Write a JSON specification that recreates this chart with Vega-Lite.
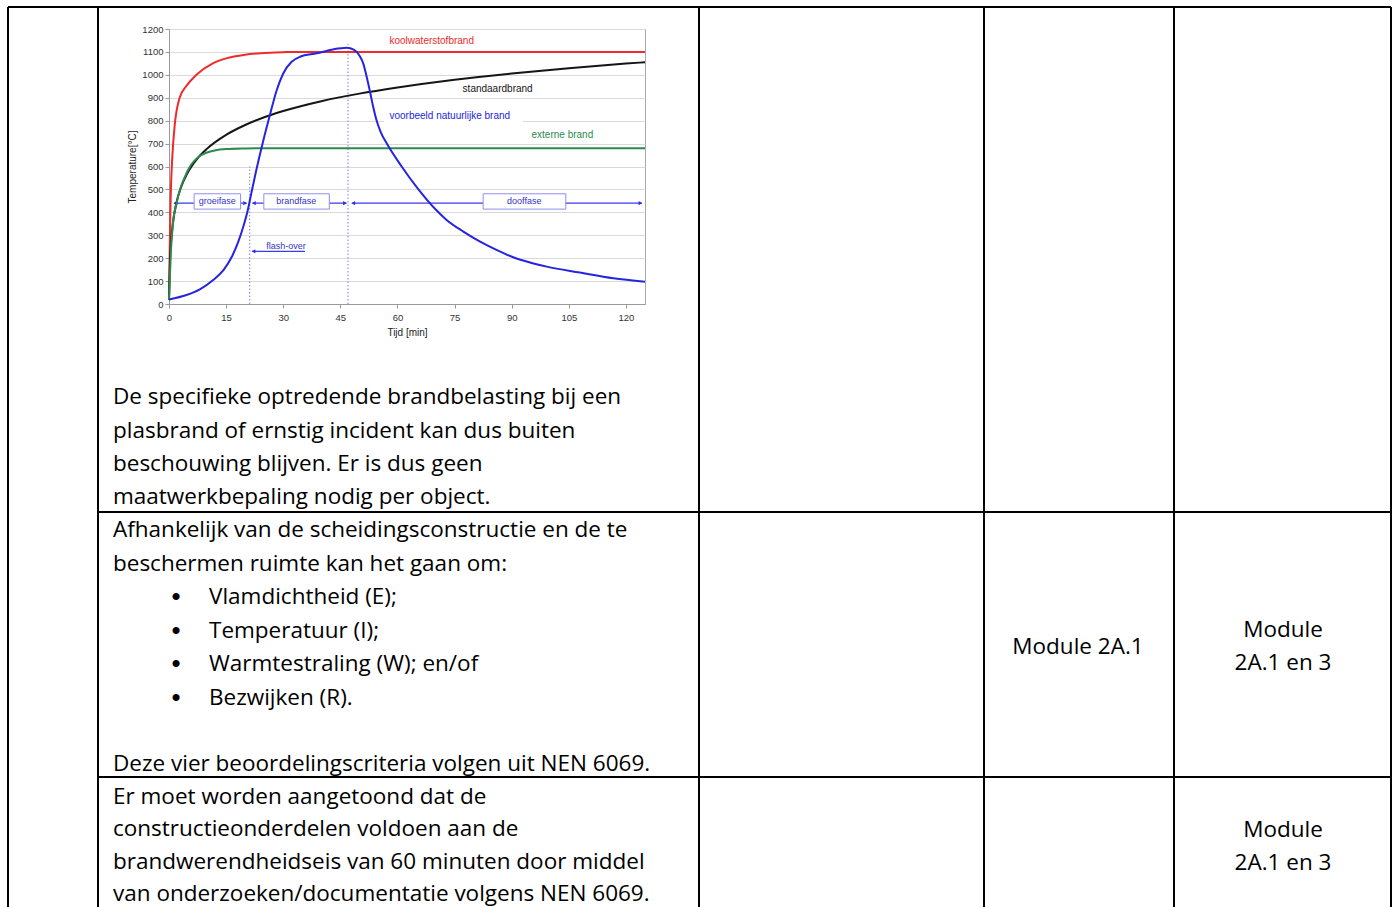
{
  "$schema": "https://vega.github.io/schema/vega-lite/v6.json",
  "width": 476,
  "height": 275,
  "autosize": {"type": "none"},
  "padding": {"left": 169, "top": 29, "right": 751, "bottom": 603},
  "background": "white",
  "config": {
    "view": {"stroke": "#a8a8a8", "strokeWidth": 1},
    "font": "Liberation Sans"
  },
  "datasets": {
    "curves": [
      {"serie": "koolwaterstofbrand", "t": 0, "T": 20},
      {"serie": "koolwaterstofbrand", "t": 0.2, "T": 250},
      {"serie": "koolwaterstofbrand", "t": 0.35, "T": 400},
      {"serie": "koolwaterstofbrand", "t": 0.5, "T": 500},
      {"serie": "koolwaterstofbrand", "t": 0.9, "T": 650},
      {"serie": "koolwaterstofbrand", "t": 1.5, "T": 780},
      {"serie": "koolwaterstofbrand", "t": 2.8, "T": 900},
      {"serie": "koolwaterstofbrand", "t": 4.5, "T": 950},
      {"serie": "koolwaterstofbrand", "t": 7.2, "T": 1000},
      {"serie": "koolwaterstofbrand", "t": 11.5, "T": 1050},
      {"serie": "koolwaterstofbrand", "t": 15, "T": 1072},
      {"serie": "koolwaterstofbrand", "t": 20, "T": 1088},
      {"serie": "koolwaterstofbrand", "t": 25, "T": 1095},
      {"serie": "koolwaterstofbrand", "t": 30, "T": 1099},
      {"serie": "koolwaterstofbrand", "t": 40, "T": 1100},
      {"serie": "koolwaterstofbrand", "t": 125, "T": 1100},
      {"serie": "standaardbrand", "t": 0, "T": 20},
      {"serie": "standaardbrand", "t": 0.25, "T": 185},
      {"serie": "standaardbrand", "t": 0.5, "T": 261},
      {"serie": "standaardbrand", "t": 1, "T": 349},
      {"serie": "standaardbrand", "t": 2, "T": 445},
      {"serie": "standaardbrand", "t": 3, "T": 502},
      {"serie": "standaardbrand", "t": 5, "T": 576},
      {"serie": "standaardbrand", "t": 7.5, "T": 636},
      {"serie": "standaardbrand", "t": 10, "T": 678},
      {"serie": "standaardbrand", "t": 15, "T": 738},
      {"serie": "standaardbrand", "t": 20, "T": 781},
      {"serie": "standaardbrand", "t": 25, "T": 815},
      {"serie": "standaardbrand", "t": 30, "T": 842},
      {"serie": "standaardbrand", "t": 40, "T": 885},
      {"serie": "standaardbrand", "t": 50, "T": 918},
      {"serie": "standaardbrand", "t": 60, "T": 945},
      {"serie": "standaardbrand", "t": 75, "T": 979},
      {"serie": "standaardbrand", "t": 90, "T": 1006},
      {"serie": "standaardbrand", "t": 105, "T": 1029},
      {"serie": "standaardbrand", "t": 120, "T": 1049},
      {"serie": "standaardbrand", "t": 125, "T": 1055},
      {"serie": "externe brand", "t": 0, "T": 20},
      {"serie": "externe brand", "t": 0.5, "T": 230},
      {"serie": "externe brand", "t": 1, "T": 346},
      {"serie": "externe brand", "t": 2, "T": 441},
      {"serie": "externe brand", "t": 3, "T": 505},
      {"serie": "externe brand", "t": 4, "T": 548},
      {"serie": "externe brand", "t": 5, "T": 585},
      {"serie": "externe brand", "t": 6, "T": 612},
      {"serie": "externe brand", "t": 8, "T": 645},
      {"serie": "externe brand", "t": 10, "T": 661},
      {"serie": "externe brand", "t": 12, "T": 670},
      {"serie": "externe brand", "t": 15, "T": 676},
      {"serie": "externe brand", "t": 20, "T": 679},
      {"serie": "externe brand", "t": 25, "T": 680},
      {"serie": "externe brand", "t": 125, "T": 680},
      {"serie": "natuurlijke brand", "t": 0, "T": 20},
      {"serie": "natuurlijke brand", "t": 4.6, "T": 39},
      {"serie": "natuurlijke brand", "t": 8.1, "T": 64},
      {"serie": "natuurlijke brand", "t": 11.6, "T": 105},
      {"serie": "natuurlijke brand", "t": 14.3, "T": 148},
      {"serie": "natuurlijke brand", "t": 16.5, "T": 206},
      {"serie": "natuurlijke brand", "t": 18.2, "T": 272},
      {"serie": "natuurlijke brand", "t": 19.5, "T": 337},
      {"serie": "natuurlijke brand", "t": 20.7, "T": 410},
      {"serie": "natuurlijke brand", "t": 21.7, "T": 490},
      {"serie": "natuurlijke brand", "t": 22.8, "T": 575},
      {"serie": "natuurlijke brand", "t": 24.8, "T": 716},
      {"serie": "natuurlijke brand", "t": 26.5, "T": 825},
      {"serie": "natuurlijke brand", "t": 28.3, "T": 934},
      {"serie": "natuurlijke brand", "t": 30, "T": 1006},
      {"serie": "natuurlijke brand", "t": 32.2, "T": 1057},
      {"serie": "natuurlijke brand", "t": 34.4, "T": 1079},
      {"serie": "natuurlijke brand", "t": 38.8, "T": 1094},
      {"serie": "natuurlijke brand", "t": 43.1, "T": 1111},
      {"serie": "natuurlijke brand", "t": 46.7, "T": 1118},
      {"serie": "natuurlijke brand", "t": 48.5, "T": 1110},
      {"serie": "natuurlijke brand", "t": 49.5, "T": 1096},
      {"serie": "natuurlijke brand", "t": 50.2, "T": 1079},
      {"serie": "natuurlijke brand", "t": 51, "T": 1050},
      {"serie": "natuurlijke brand", "t": 52, "T": 985},
      {"serie": "natuurlijke brand", "t": 52.8, "T": 925},
      {"serie": "natuurlijke brand", "t": 53.6, "T": 862},
      {"serie": "natuurlijke brand", "t": 54.5, "T": 802},
      {"serie": "natuurlijke brand", "t": 55.6, "T": 750},
      {"serie": "natuurlijke brand", "t": 57.2, "T": 700},
      {"serie": "natuurlijke brand", "t": 61.1, "T": 600},
      {"serie": "natuurlijke brand", "t": 65.5, "T": 500},
      {"serie": "natuurlijke brand", "t": 70.1, "T": 411},
      {"serie": "natuurlijke brand", "t": 72.9, "T": 367},
      {"serie": "natuurlijke brand", "t": 77.3, "T": 316},
      {"serie": "natuurlijke brand", "t": 81.7, "T": 272},
      {"serie": "natuurlijke brand", "t": 86, "T": 236},
      {"serie": "natuurlijke brand", "t": 90.4, "T": 204},
      {"serie": "natuurlijke brand", "t": 94.8, "T": 181},
      {"serie": "natuurlijke brand", "t": 99.2, "T": 163},
      {"serie": "natuurlijke brand", "t": 107.9, "T": 137},
      {"serie": "natuurlijke brand", "t": 116.7, "T": 112},
      {"serie": "natuurlijke brand", "t": 125, "T": 97}
    ],
    "curve_labels": [
      {"serie": "koolwaterstofbrand", "t": 57.9, "T": 1149, "label": "koolwaterstofbrand"},
      {"serie": "standaardbrand", "t": 77.1, "T": 938, "label": "standaardbrand"},
      {"serie": "natuurlijke brand", "t": 57.9, "T": 821, "label": "voorbeeld natuurlijke brand"},
      {"serie": "externe brand", "t": 95.2, "T": 737, "label": "externe brand"}
    ],
    "label_backdrop": [
      {"t": 56.5, "t2": 93, "T": 790, "T2": 835}
    ],
    "phase_markers": [
      {"t": 21.2, "T": 0, "T2": 600},
      {"t": 47, "T": 0, "T2": 1135}
    ],
    "phase_spans": [
      {"t": 1.3, "t2": 20.4, "T": 440},
      {"t": 21.9, "t2": 46.6, "T": 440},
      {"t": 48, "t2": 124.2, "T": 440},
      {"t": 21.8, "t2": 35.7, "T": 230}
    ],
    "arrowheads": [
      {"t": 1.7, "T": 440, "shape": "triangle-left"},
      {"t": 20.0, "T": 440, "shape": "triangle-right"},
      {"t": 22.3, "T": 440, "shape": "triangle-left"},
      {"t": 46.2, "T": 440, "shape": "triangle-right"},
      {"t": 48.4, "T": 440, "shape": "triangle-left"},
      {"t": 123.8, "T": 440, "shape": "triangle-right"},
      {"t": 22.2, "T": 230, "shape": "triangle-left"}
    ],
    "phase_boxes": [
      {"t": 6.6, "t2": 18.8, "T": 414, "T2": 481},
      {"t": 24.9, "t2": 42.1, "T": 414, "T2": 481},
      {"t": 82.5, "t2": 104.2, "T": 414, "T2": 481}
    ],
    "phase_labels": [
      {"t": 12.7, "T": 450, "label": "groeifase"},
      {"t": 33.4, "T": 450, "label": "brandfase"},
      {"t": 93.3, "T": 450, "label": "dooffase"},
      {"t": 30.7, "T": 255, "label": "flash-over"}
    ],
    "table_lines": [
      {"px": 8, "px2": 1391, "py": 7, "py2": 7},
      {"px": 98, "px2": 1391, "py": 512, "py2": 512},
      {"px": 98, "px2": 1391, "py": 777, "py2": 777},
      {"px": 8, "px2": 8, "py": 7, "py2": 907},
      {"px": 98, "px2": 98, "py": 7, "py2": 907},
      {"px": 699, "px2": 699, "py": 7, "py2": 907},
      {"px": 984, "px2": 984, "py": 7, "py2": 907},
      {"px": 1174, "px2": 1174, "py": 7, "py2": 907},
      {"px": 1391, "px2": 1391, "py": 7, "py2": 907}
    ],
    "table_text": [
      {"kind": "left", "px": 113, "py": 397, "label": "De specifieke optredende brandbelasting bij een"},
      {"kind": "left", "px": 113, "py": 431, "label": "plasbrand of ernstig incident kan dus buiten"},
      {"kind": "left", "px": 113, "py": 464, "label": "beschouwing blijven. Er is dus geen"},
      {"kind": "left", "px": 113, "py": 497, "label": "maatwerkbepaling nodig per object."},
      {"kind": "left", "px": 113, "py": 530, "label": "Afhankelijk van de scheidingsconstructie en de te"},
      {"kind": "left", "px": 113, "py": 564, "label": "beschermen ruimte kan het gaan om:"},
      {"kind": "left", "px": 209, "py": 597, "label": "Vlamdichtheid (E);"},
      {"kind": "left", "px": 209, "py": 631, "label": "Temperatuur (I);"},
      {"kind": "left", "px": 209, "py": 664, "label": "Warmtestraling (W); en/of"},
      {"kind": "left", "px": 209, "py": 698, "label": "Bezwijken (R)."},
      {"kind": "left", "px": 113, "py": 764, "label": "Deze vier beoordelingscriteria volgen uit NEN 6069."},
      {"kind": "left", "px": 113, "py": 797, "label": "Er moet worden aangetoond dat de"},
      {"kind": "left", "px": 113, "py": 829, "label": "constructieonderdelen voldoen aan de"},
      {"kind": "left", "px": 113, "py": 862, "label": "brandwerendheidseis van 60 minuten door middel"},
      {"kind": "left", "px": 113, "py": 894, "label": "van onderzoeken/documentatie volgens NEN 6069."},
      {"kind": "center", "px": 1078, "py": 647, "label": "Module 2A.1"},
      {"kind": "center", "px": 1283, "py": 630, "label": "Module"},
      {"kind": "center", "px": 1283, "py": 663, "label": "2A.1 en 3"},
      {"kind": "center", "px": 1283, "py": 830, "label": "Module"},
      {"kind": "center", "px": 1283, "py": 863, "label": "2A.1 en 3"},
      {"kind": "bullet", "px": 176, "py": 597, "label": "•"},
      {"kind": "bullet", "px": 176, "py": 631, "label": "•"},
      {"kind": "bullet", "px": 176, "py": 664, "label": "•"},
      {"kind": "bullet", "px": 176, "py": 698, "label": "•"}
    ]
  },
  "layer": [
    {
      "encoding": {
        "x": {
          "field": "t", "type": "quantitative",
          "scale": {"domain": [0, 125], "nice": false, "zero": false},
          "axis": {
            "orient": "bottom", "title": "Tijd [min]", "format": "d",
            "values": [0, 15, 30, 45, 60, 75, 90, 105, 120],
            "grid": false, "labelFlush": false,
            "domainColor": "#9a9a9a", "tickColor": "#9a9a9a", "tickSize": 4,
            "labelPadding": 4, "labelFontSize": 9.5, "labelColor": "#333333",
            "labelFont": "Liberation Sans",
            "titleFont": "Liberation Sans", "titleFontSize": 10, "titleFontWeight": "normal",
            "titleColor": "#222222", "titlePadding": 6
          }
        },
        "y": {
          "field": "T", "type": "quantitative",
          "scale": {"domain": [0, 1200], "nice": false, "zero": false},
          "axis": {
            "orient": "left", "title": "Temperature[°C]", "format": "d",
            "values": [0, 100, 200, 300, 400, 500, 600, 700, 800, 900, 1000, 1100, 1200],
            "grid": true, "gridColor": "#d9d9d9", "labelFlush": false,
            "domainColor": "#9a9a9a", "tickColor": "#9a9a9a", "tickSize": 4,
            "labelPadding": 2, "labelFontSize": 9.5, "labelColor": "#333333",
            "labelFont": "Liberation Sans",
            "titleFont": "Liberation Sans", "titleFontSize": 10, "titleFontWeight": "normal",
            "titleColor": "#222222", "titlePadding": 4
          }
        }
      },
      "layer": [
        {
          "data": {"name": "label_backdrop"},
          "mark": {"type": "rect", "fill": "white", "stroke": null},
          "encoding": {"x2": {"field": "t2"}, "y2": {"field": "T2"}}
        },
        {
          "data": {"name": "phase_markers"},
          "mark": {"type": "rule", "color": "#7a7aee", "strokeWidth": 1, "strokeDash": [1.5, 2]},
          "encoding": {"y2": {"field": "T2"}}
        },
        {
          "data": {"name": "phase_spans"},
          "mark": {"type": "rule", "color": "#3a3aee", "strokeWidth": 1.2},
          "encoding": {"x2": {"field": "t2"}}
        },
        {
          "data": {"name": "phase_boxes"},
          "mark": {"type": "rect", "fill": "white", "stroke": "#8f8fef", "strokeWidth": 1},
          "encoding": {"x2": {"field": "t2"}, "y2": {"field": "T2"}}
        },
        {
          "data": {"name": "phase_labels"},
          "mark": {"type": "text", "font": "Liberation Sans", "fontSize": 9, "color": "#3333cc", "baseline": "middle", "align": "center"},
          "encoding": {"text": {"field": "label"}}
        },
        {
          "data": {"name": "arrowheads"},
          "mark": {"type": "point", "filled": true, "size": 18, "color": "#3030e0", "opacity": 1},
          "encoding": {"shape": {"field": "shape", "type": "nominal", "scale": null}}
        },
        {
          "data": {"name": "curves"},
          "mark": {"type": "line", "strokeWidth": 2, "interpolate": "monotone"},
          "encoding": {
            "color": {
              "field": "serie", "type": "nominal", "legend": null,
              "scale": {
                "domain": ["koolwaterstofbrand", "standaardbrand", "externe brand", "natuurlijke brand"],
                "range": ["#ee2a2a", "#151515", "#2d8a4e", "#2525e0"]
              }
            },
            "order": {"field": "t", "type": "quantitative"}
          }
        },
        {
          "data": {"name": "curve_labels"},
          "mark": {"type": "text", "font": "Liberation Sans", "fontSize": 10, "align": "left", "baseline": "middle"},
          "encoding": {
            "text": {"field": "label"},
            "color": {
              "field": "serie", "type": "nominal", "legend": null,
              "scale": {
                "domain": ["koolwaterstofbrand", "standaardbrand", "externe brand", "natuurlijke brand"],
                "range": ["#ee2a2a", "#151515", "#2d8a4e", "#2525e0"]
              }
            }
          }
        }
      ]
    },
    {
      "encoding": {
        "x": {"field": "px", "type": "quantitative", "axis": null,
              "scale": {"domain": [169, 645], "nice": false, "zero": false}},
        "y": {"field": "py", "type": "quantitative", "axis": null,
              "scale": {"domain": [29, 304], "nice": false, "zero": false, "reverse": true}}
      },
      "layer": [
        {
          "data": {"name": "table_lines"},
          "mark": {"type": "rule", "color": "#000000", "strokeWidth": 2},
          "encoding": {"x2": {"field": "px2"}, "y2": {"field": "py2"}}
        },
        {
          "data": {"name": "table_text"},
          "transform": [{"filter": "datum.kind === 'left'"}],
          "mark": {"type": "text", "font": "Open Sans", "fontSize": 22.5, "align": "left", "baseline": "middle", "color": "#000000"},
          "encoding": {"text": {"field": "label"}}
        },
        {
          "data": {"name": "table_text"},
          "transform": [{"filter": "datum.kind === 'center'"}],
          "mark": {"type": "text", "font": "Open Sans", "fontSize": 22.5, "align": "center", "baseline": "middle", "color": "#000000"},
          "encoding": {"text": {"field": "label"}}
        },
        {
          "data": {"name": "table_text"},
          "transform": [{"filter": "datum.kind === 'bullet'"}],
          "mark": {"type": "text", "font": "Liberation Sans", "fontSize": 26, "align": "center", "baseline": "middle", "color": "#000000"},
          "encoding": {"text": {"field": "label"}}
        }
      ]
    }
  ],
  "resolve": {"scale": {"x": "independent", "y": "independent", "color": "independent"}}
}
